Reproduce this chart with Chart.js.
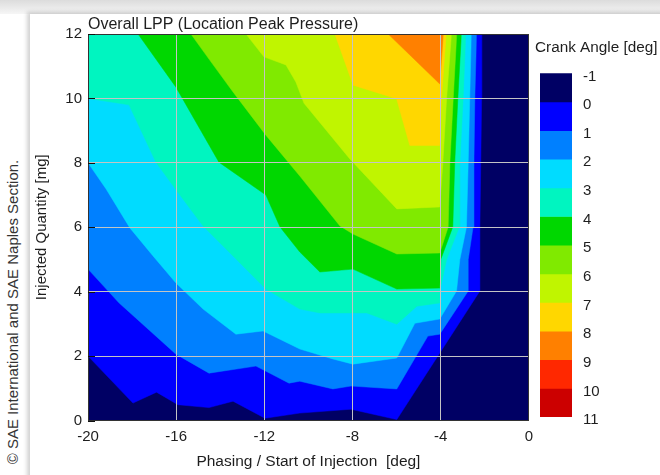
<!DOCTYPE html>
<html>
<head>
<meta charset="utf-8">
<title>Overall LPP</title>
<script src="https://cdn.jsdelivr.net/npm/chart.js@4.4.0/dist/chart.umd.min.js"></script>
<style>
  html, body { margin:0; padding:0; width:660px; height:475px; overflow:hidden; background:#fff; }
  #topbar { position:absolute; left:0; top:0; width:660px; height:14px; background:linear-gradient(#dcdcdc, #f6f6f6); }
  #panel { position:absolute; left:30px; top:14px; width:700px; height:500px; background:#fff; box-shadow:-3px -2px 4px rgba(0,0,0,0.18); }
  #copy { position:absolute; left:12px; top:312px; transform:translate(-50%,-50%) rotate(-90deg); white-space:nowrap;
          font:15px "Liberation Sans", Arial, sans-serif; color:#333; }
  #main { position:absolute; left:30px; top:14px; }
  #bar { position:absolute; left:535px; top:30px; }
</style>
</head>
<body>
<div id="topbar"></div>
<div id="panel"></div>
<div id="copy">© SAE International and SAE Naples Section.</div>
<canvas id="main" width="510" height="461"></canvas>
<canvas id="bar" width="125" height="402"></canvas>
<script>
const FONT = '"Liberation Sans", Arial, sans-serif';
Chart.defaults.font.family = FONT;

// axis ticks
const xTicks = [-20, -16, -12, -8, -4, 0];
const yTicks = [0, 2, 4, 6, 8, 10, 12];
// colour bar levels, crank angle [deg]
const levels = [-1, 0, 1, 2, 3, 4, 5, 6, 7, 8, 9, 10, 11];
const bandColors = ['#000064', '#0000ff', '#0080ff', '#00dcff', '#00f5c0', '#00d700',
                    '#80ea00', '#c0f500', '#ffd700', '#ff8000', '#ff2800', '#cc0000'];

// iso-lines of LPP: [start of injection, injected quantity], area above each line is >= level
const lppBase = [[-20, 0], [0, 0]];
const lpp0 = [[-20, 2.0], [-17.96, 0.54], [-16.89, 0.88], [-15.92, 0.49], [-14.51, 0.40], [-13.42, 0.60],
              [-11.97, 0.07], [-10.39, 0.23], [-8.07, 0.35], [-5.99, 0.03], [-2.22, 4.02], [-2.22, 6.0],
              [-2.18, 8.0], [-2.14, 10.0], [-2.13, 12]];
const lpp1 = [[-20, 4.70], [-18.59, 3.65], [-16.01, 2.06], [-14.51, 1.47], [-12.38, 1.69], [-10.88, 1.16],
              [-10.39, 1.22], [-8.89, 0.98], [-8.07, 1.07], [-5.99, 0.98], [-4.58, 2.62], [-4.04, 2.68],
              [-2.75, 4.02], [-2.75, 5.0], [-2.53, 6.0], [-2.49, 8.0], [-2.45, 10.0], [-2.37, 12]];
const lpp2 = [[-20, 8.0], [-19.18, 7.19], [-18.10, 5.98], [-17.05, 5.11], [-16.01, 4.27], [-14.78, 3.46],
              [-13.29, 2.68], [-12.06, 2.78], [-10.39, 2.22], [-8.89, 1.91], [-7.98, 1.75], [-5.99, 1.94],
              [-5.17, 3.02], [-4.04, 3.15], [-3.28, 4.02], [-3.13, 5.0], [-2.83, 6.0], [-2.75, 8.0],
              [-2.68, 10.0], [-2.61, 12]];
const lpp3 = [[-20, 10.0], [-18.14, 9.80], [-16.92, 8.02], [-15.83, 7.0], [-14.78, 6.04], [-13.42, 5.11],
              [-11.93, 4.08], [-10.39, 3.46], [-9.48, 3.34], [-7.35, 3.34], [-5.99, 2.99], [-5.08, 3.55],
              [-4.04, 3.65], [-4.04, 4.02], [-3.73, 5.0], [-3.16, 6.0], [-3.13, 8.0], [-2.98, 10.0], [-2.86, 12]];
const lpp4 = [[-17.73, 12], [-16.01, 10.35], [-14.06, 8.02], [-11.93, 7.0], [-11.29, 6.01], [-10.39, 5.23],
              [-9.48, 4.61], [-7.98, 4.70], [-5.99, 4.08], [-4.04, 4.11], [-3.99, 5.01], [-3.45, 6.01],
              [-3.36, 8.02], [-3.22, 10.0], [-3.06, 12]];
const lpp5 = [[-15.33, 12], [-14.51, 11.22], [-13.42, 10.20], [-11.93, 8.86], [-10.39, 7.59], [-8.57, 6.04],
              [-7.98, 5.79], [-5.99, 5.17], [-4.04, 5.20], [-3.66, 6.01], [-3.58, 8.02], [-3.43, 10.0], [-3.27, 12]];
const lpp6 = [[-12.83, 12], [-12.02, 11.29], [-11.02, 11.04], [-10.57, 10.51], [-10.2, 9.85], [-8.12, 8.12],
              [-5.99, 6.57], [-4.04, 6.63], [-3.90, 8.02], [-3.73, 10.0], [-3.51, 12]];
const lpp7 = [[-8.80, 12], [-7.97, 10.41], [-6.00, 9.99], [-5.40, 8.54], [-4.04, 8.54], [-3.96, 10.0], [-3.75, 12]];
const lpp8 = [[-6.38, 12], [-4.04, 10.45], [-3.88, 12]];

const contours = [lppBase, lpp0, lpp1, lpp2, lpp3, lpp4, lpp5, lpp6, lpp7, lpp8];

// short black ticks pointing into the plot on the left axis
const innerTicks = {
  id: 'innerTicks',
  afterDraw(chart) {
    const {ctx, chartArea} = chart;
    const y = chart.scales.y;
    ctx.save();
    ctx.strokeStyle = '#111';
    ctx.lineWidth = 1;
    yTicks.forEach(v => {
      const py = Math.round(y.getPixelForValue(v)) + 0.5;
      ctx.beginPath();
      ctx.moveTo(chartArea.left, py);
      ctx.lineTo(chartArea.left + 7, py);
      ctx.stroke();
    });
    ctx.restore();
  }
};

const gridColor = '#c4c4c4';
const txtColor = '#1e1e1e';

new Chart(document.getElementById('main'), {
  type: 'line',
  data: {
    datasets: contours.map((pts, i) => ({
      label: 'LPP ' + levels[i],
      data: pts.map(p => ({x: p[0], y: p[1]})),
      xAxisID: 'x',
      yAxisID: 'y',
      fill: 'end',
      backgroundColor: bandColors[i],
      borderColor: bandColors[i],
      borderWidth: 0.5,
      pointRadius: 0,
      order: contours.length - i
    }))
  },
  options: {
    responsive: false,
    animation: false,
    events: [],
    layout: {padding: 0},
    plugins: {legend: {display: false}, tooltip: {enabled: false}},
    scales: {
      x: {
        type: 'linear', position: 'bottom', min: -20, max: 0,
        afterBuildTicks: s => { s.ticks = xTicks.map(v => ({value: v})); },
        ticks: {color: txtColor, font: {size: 15}, padding: 7, maxRotation: 0, autoSkip: false},
        grid: {color: gridColor, drawTicks: false, z: 1},
        border: {color: '#333', z: 2},
        title: {display: true, text: 'Phasing / Start of Injection  [deg]', color: txtColor,
                font: {size: 15.5}, padding: {top: 0, bottom: 4}},
        afterFit: s => { s.height = 54.5; }
      },
      y: {
        type: 'linear', position: 'left', min: 0, max: 12,
        afterBuildTicks: s => { s.ticks = yTicks.map(v => ({value: v})); },
        ticks: {color: txtColor, font: {size: 15}, padding: 6},
        grid: {color: gridColor, drawTicks: false, z: 1},
        border: {color: '#333', z: 2},
        title: {display: true, text: 'Injected Quantity [mg]', color: txtColor,
                font: {size: 15}, padding: {top: 3, bottom: 0}},
        afterFit: s => { s.width = 58; }
      },
      xTop: {
        type: 'linear', position: 'top', min: -20, max: 0,
        ticks: {display: false},
        grid: {display: false},
        border: {color: '#333', z: 2},
        title: {display: true, text: 'Overall LPP (Location Peak Pressure)', align: 'start', color: txtColor,
                font: {size: 16}, padding: {top: 1, bottom: 0}},
        afterFit: s => { s.height = 20; }
      },
      yRight: {
        type: 'linear', position: 'right', min: 0, max: 12,
        ticks: {display: false},
        grid: {display: false},
        border: {color: '#333', z: 2},
        afterFit: s => { s.width = 11; }
      }
    }
  },
  plugins: [innerTicks]
});

// colour bar
new Chart(document.getElementById('bar'), {
  type: 'bar',
  data: {
    labels: [''],
    datasets: bandColors.map((c, i) => ({
      label: levels[i] + '..' + levels[i + 1],
      data: [[levels[i], levels[i + 1]]],
      backgroundColor: c,
      borderWidth: 0,
      barPercentage: 1,
      categoryPercentage: 1,
      xAxisID: 'x',
      yAxisID: 'y'
    }))
  },
  options: {
    responsive: false,
    animation: false,
    events: [],
    layout: {padding: {left: 0, right: 0, top: 0, bottom: 15}},
    plugins: {
      legend: {display: false},
      tooltip: {enabled: false},
      title: {display: true, text: 'Crank Angle [deg]', align: 'start', color: txtColor,
              font: {size: 15.3, weight: 'normal'}, padding: {top: 9, bottom: 16}}
    },
    scales: {
      x: {type: 'category', display: false, stacked: true},
      y: {
        type: 'linear', position: 'right', reverse: true, min: -1, max: 11,
        afterBuildTicks: s => { s.ticks = levels.map(v => ({value: v})); },
        ticks: {color: txtColor, font: {size: 15}, padding: 3, labelOffset: 3},
        grid: {display: false},
        border: {display: false},
        afterFit: s => { s.width = 88; }
      },
      yl: {
        type: 'linear', position: 'left', min: 0, max: 1,
        ticks: {display: false},
        grid: {display: false},
        border: {display: false},
        afterFit: s => { s.width = 5; }
      }
    }
  }
});
</script>
</body>
</html>
